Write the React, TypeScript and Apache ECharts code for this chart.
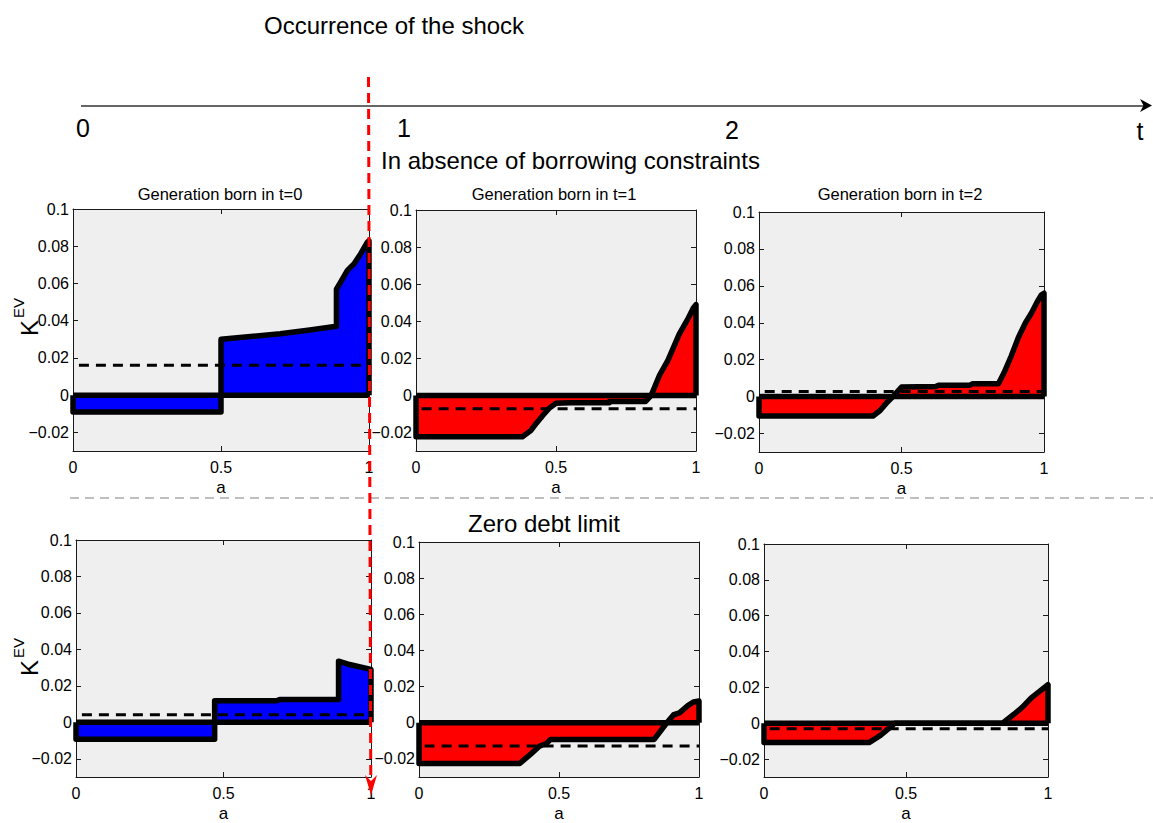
import React, { useEffect, useRef } from "react";
import * as echarts from "echarts";

// ---- data ----
const xTicks = [0, 0.5, 1];
const yTicks = [-0.02, 0, 0.02, 0.04, 0.06, 0.08, 0.1];
const panelTitles = ["Generation born in t=0", "Generation born in t=1", "Generation born in t=2"];
const timeLabels = ["0", "1", "2", "t"];

// In absence of borrowing constraints
const freeT0: number[][] = [[0, 0], [0, -0.009], [0.5, -0.009], [0.5, 0.030], [0.6, 0.0315], [0.7, 0.033], [0.8, 0.035], [0.89, 0.037], [0.89, 0.057], [0.905, 0.061], [0.927, 0.067], [0.949, 0.0705], [0.972, 0.076], [0.994, 0.082], [1, 0.083], [1, 0]];
const freeT1: number[][] = [[0, 0], [0, -0.0223], [0.38, -0.0223], [0.41, -0.019], [0.43, -0.015], [0.455, -0.0105], [0.475, -0.007], [0.5, -0.0042], [0.55, -0.004], [0.69, -0.004], [0.69, -0.0033], [0.82, -0.0033], [0.84, 0], [0.87, 0.011], [0.9, 0.019], [0.94, 0.033], [0.97, 0.041], [0.99, 0.047], [1, 0.049], [1, 0]];
const freeT2: number[][] = [[0, 0], [0, -0.0105], [0.4, -0.0105], [0.425, -0.0075], [0.45, -0.003], [0.47, 0], [0.5, 0.0052], [0.62, 0.0055], [0.63, 0.0062], [0.74, 0.0062], [0.75, 0.007], [0.84, 0.007], [0.86, 0.013], [0.885, 0.022], [0.91, 0.032], [0.935, 0.04], [0.955, 0.045], [0.975, 0.051], [0.99, 0.055], [1, 0.056], [1, 0]];
const freeMeans = [0.016, -0.0072, 0.0028];

// Zero debt limit
const zdlT0: number[][] = [[0, 0], [0, -0.0093], [0.47, -0.0093], [0.47, 0.0118], [0.68, 0.0118], [0.69, 0.0125], [0.89, 0.0125], [0.89, 0.0335], [0.92, 0.032], [0.96, 0.0305], [1, 0.029], [1, 0]];
const zdlT1: number[][] = [[0, 0], [0, -0.0225], [0.36, -0.0225], [0.4, -0.0172], [0.43, -0.013], [0.455, -0.0115], [0.47, -0.0092], [0.84, -0.0092], [0.885, 0], [0.91, 0.0045], [0.93, 0.0055], [0.96, 0.0095], [0.98, 0.0115], [1, 0.012], [1, 0]];
const zdlT2: number[][] = [[0, 0], [0, -0.0108], [0.37, -0.0108], [0.41, -0.0068], [0.445, -0.0022], [0.46, 0], [0.84, 0], [0.88, 0.005], [0.91, 0.009], [0.94, 0.014], [0.96, 0.0165], [0.98, 0.019], [1, 0.0215], [1, 0]];
const zdlMeans = [0.0042, -0.0128, -0.0031];

const curves = [freeT0, freeT1, freeT2, zdlT0, zdlT1, zdlT2];
const means = [...freeMeans, ...zdlMeans];
const fills = ["#0000ff", "#ff0000", "#ff0000", "#0000ff", "#ff0000", "#ff0000"];

// ---- layout ----
const GRIDS = [
  { left: 73, top: 209, width: 296, height: 242 },
  { left: 416, top: 210, width: 280, height: 241 },
  { left: 759, top: 212, width: 285, height: 240 },
  { left: 76, top: 540, width: 295, height: 242 },
  { left: 419, top: 542, width: 280, height: 240 },
  { left: 764, top: 544, width: 284, height: 241 },
];
const FONT = 'Arial, "Liberation Sans", Helvetica, sans-serif';
const fmtY = (v: number) => {
  const s = String(Math.round(v * 1000) / 1000);
  return s.startsWith("-") ? "\u2212" + s.slice(1) : s;
};

export default function App() {
  const ref = useRef<HTMLDivElement>(null);
  useEffect(() => {
    if (!ref.current) return;
    const chart = echarts.init(ref.current, undefined, { renderer: "svg" });
    const grid: any[] = [];
    const xAxis: any[] = [];
    const yAxis: any[] = [];
    const series: any[] = [];
    const axisLine = { show: true, onZero: false, lineStyle: { color: "#1a1a1a", width: 1 } };
    const tick = { show: true, inside: true, length: 5, lineStyle: { color: "#1a1a1a", width: 1 } };
    GRIDS.forEach((g, i) => {
      grid.push({ ...g, show: true, backgroundColor: "#efefef", borderWidth: 0, containLabel: false });
      xAxis.push({
        gridIndex: i, type: "value", min: 0, max: 1, interval: 0.5, position: "bottom",
        axisLine, axisTick: tick, splitLine: { show: false },
        axisLabel: { fontSize: 16, color: "#000", fontFamily: FONT, margin: 8, formatter: (v: number) => String(v), customValues: xTicks },
        name: "a", nameLocation: "middle", nameGap: 28,
        nameTextStyle: { fontSize: 17, color: "#000", fontFamily: FONT },
      });
      xAxis.push({
        gridIndex: i, type: "value", min: 0, max: 1, interval: 0.5, position: "top",
        axisLine, axisTick: tick, splitLine: { show: false }, axisLabel: { show: false },
      });
      yAxis.push({
        gridIndex: i, type: "value", min: -0.03, max: 0.1, position: "left",
        axisLine, axisTick: { ...tick, customValues: yTicks }, splitLine: { show: false },
        axisLabel: { fontSize: 16, color: "#000", fontFamily: FONT, margin: 4, customValues: yTicks, formatter: fmtY },
      });
      yAxis.push({
        gridIndex: i, type: "value", min: -0.03, max: 0.1, position: "right",
        axisLine, axisTick: { ...tick, customValues: yTicks }, splitLine: { show: false }, axisLabel: { show: false },
      });
      series.push({
        type: "line", xAxisIndex: 2 * i, yAxisIndex: 2 * i, data: curves[i],
        symbol: "none", clip: false, z: 2,
        lineStyle: { color: "#000", width: 5.5, join: "round" },
        areaStyle: { color: fills[i], opacity: 1, origin: 0 },
      });
      series.push({
        type: "line", xAxisIndex: 2 * i, yAxisIndex: 2 * i, data: [[0, 0], [1, 0]],
        symbol: "none", clip: false, z: 3,
        lineStyle: { color: "#000", width: 5.5 },
      });
      series.push({
        type: "line", xAxisIndex: 2 * i, yAxisIndex: 2 * i, data: [[0.02, means[i]], [1, means[i]]],
        symbol: "none", clip: true, z: 4,
        lineStyle: { color: "#000", width: 3, type: [10, 7] },
      });
    });

    const txt = (x: number, y: number, text: string, fontSize: number, align = "center", extra: any = {}) => ({
      type: "text", x, y, z: 50, ...extra,
      style: { text, fontSize, fontFamily: FONT, fill: "#000", align, verticalAlign: "middle" },
    });
    const timeX = [83, 404, 732, 1140];
    const timeY = [128, 128, 130, 131];
    const titleX = [220, 554, 900];
    const graphic: any[] = [
      txt(264, 25, "Occurrence of the shock", 24, "left"),
      { type: "line", z: 40, shape: { x1: 81, y1: 106, x2: 1145, y2: 106 }, style: { stroke: "#333", lineWidth: 1.5 } },
      { type: "polygon", z: 41, shape: { points: [[1140, 99], [1152, 105.5], [1140, 112], [1143.5, 105.5]] }, style: { fill: "#000" } },
      ...timeLabels.map((t, i) => txt(timeX[i], timeY[i], t, 25)),
      txt(381, 160, "In absence of borrowing constraints", 24, "left"),
      ...panelTitles.map((t, i) => txt(titleX[i], 194, t, 16.5)),
      { type: "line", z: 40, shape: { x1: 70, y1: 498, x2: 1153, y2: 498 }, style: { stroke: "#7f7f7f", lineWidth: 1, lineDash: [9, 6] } },
      txt(544, 523, "Zero debt limit", 24),
      txt(29, 328, "K", 24, "center", { rotation: Math.PI / 2 }),
      txt(18, 308, "EV", 15, "center", { rotation: Math.PI / 2 }),
      txt(29, 668, "K", 24, "center", { rotation: Math.PI / 2 }),
      txt(18, 648, "EV", 15, "center", { rotation: Math.PI / 2 }),
      { type: "line", z: 60, shape: { x1: 368.5, y1: 77, x2: 370.8, y2: 785 }, style: { stroke: "#ff0000", lineWidth: 3, lineDash: [10, 6] } },
      { type: "polygon", z: 61, shape: { points: [[365, 775], [371, 781], [377, 775], [371, 795]] }, style: { fill: "#ff0000" } },
    ];

    chart.setOption({
      animation: false,
      backgroundColor: "#ffffff",
      textStyle: { fontFamily: FONT },
      grid, xAxis, yAxis, series, graphic,
    });
    return () => chart.dispose();
  }, []);
  return <div ref={ref} style={{ position: "fixed", left: 0, top: 0, width: 1153, height: 823 }} />;
}
